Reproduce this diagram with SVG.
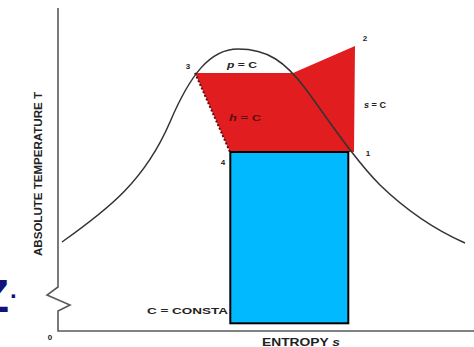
<svg xmlns="http://www.w3.org/2000/svg" width="474" height="347" viewBox="0 0 474 347">
<style>
.lbl{font-family:"Liberation Sans",Arial,sans-serif;font-weight:bold;fill:#222;}
.axis{fill:none;stroke:#5a5a5a;stroke-width:1.6;}
.curve{fill:none;stroke:#333;stroke-width:1.5;}
</style>
<rect width="474" height="347" fill="#ffffff"/>
<g id="cycle-area">
<polygon points="195,73 293,73 355,46 354,152 230,152" fill="#e11d1f"/>
<line x1="195" y1="73" x2="230" y2="152" stroke="#5a1010" stroke-width="2" stroke-dasharray="2,2"/>
</g>
<g id="connectors">
<path class="axis" d="M58,8 V287 L47,295 L70,305 L58,311 V331 H474"/>
<path class="curve" d="M62,242 C110,208 145,180 170,122 C190,75 210,49 238,49 C268,49 285,62 305,88 C330,122 355,160 380,185 C410,214 440,232 465,243"/>
</g>
<g id="blue-box">
<rect x="230.3" y="152" width="118" height="171.3" fill="#00b9ff" stroke="#000" stroke-width="2"/>
</g>
<g id="labels">
<text class="lbl" x="188" y="69" font-size="8" text-anchor="middle">3</text>
<text class="lbl" x="365" y="41" font-size="8" text-anchor="middle">2</text>
<text class="lbl" x="368" y="156" font-size="8" text-anchor="middle">1</text>
<text class="lbl" x="223" y="165" font-size="8" text-anchor="middle">4</text>
<text class="lbl" x="50" y="340" font-size="8" text-anchor="middle">0</text>
<text class="lbl" x="227" y="67.5" font-size="9.5" textLength="30" lengthAdjust="spacingAndGlyphs"><tspan font-style="italic">p</tspan> = C</text>
<text class="lbl" x="364" y="107.5" font-size="9.5" textLength="22" lengthAdjust="spacingAndGlyphs"><tspan font-style="italic">s</tspan> = C</text>
<text class="lbl" x="229" y="120.5" font-size="9.5" textLength="32" lengthAdjust="spacingAndGlyphs" style="fill:#5a1010"><tspan font-style="italic">h</tspan> = C</text>
<text class="lbl" x="147" y="313.5" font-size="9.5" textLength="81" lengthAdjust="spacingAndGlyphs">C = CONSTA</text>
<text class="lbl" x="262" y="346" font-size="11" textLength="78" lengthAdjust="spacingAndGlyphs">ENTROPY <tspan font-style="italic">s</tspan></text>
<text class="lbl" transform="translate(42,256) rotate(-90)" x="0" y="0" font-size="10.5" textLength="164" lengthAdjust="spacingAndGlyphs">ABSOLUTE TEMPERATURE T</text>
<text x="-19.7" y="312" font-family="Liberation Sans,Arial,sans-serif" font-weight="bold" font-size="47" fill="#12127a">Z<tspan font-size="24" dx="1" dy="-14">.</tspan></text>
</g>
</svg>
